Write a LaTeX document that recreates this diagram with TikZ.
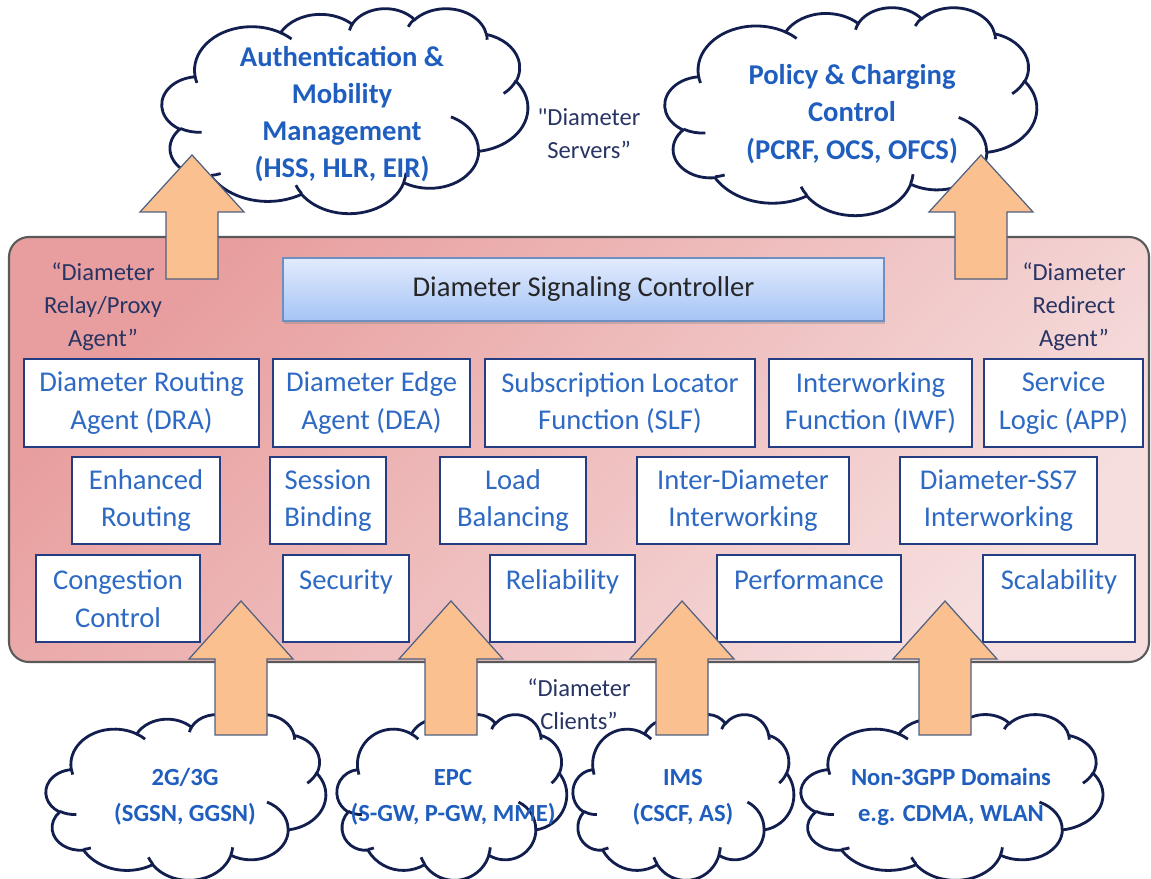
\documentclass[tikz,border=0pt]{standalone}
\usepackage{fontspec}
\setmainfont{Carlito}[Ligatures=TeXOff]
\usetikzlibrary{shadows}

\definecolor{boxblue}{RGB}{46,106,196}
\definecolor{cloudtext}{RGB}{31,94,190}
\definecolor{cloudnavy}{RGB}{18,30,78}
\definecolor{labelnavy}{RGB}{40,52,100}
\definecolor{boxline}{RGB}{35,60,130}
\definecolor{redtop}{RGB}{232,158,158}
\definecolor{redbot}{RGB}{246,222,222}
\definecolor{dscblue1}{RGB}{226,235,253}
\definecolor{dscblue2}{RGB}{166,196,246}
\definecolor{dscline}{RGB}{110,143,194}
\definecolor{arrowfill}{RGB}{250,192,143}
\definecolor{arrowline}{RGB}{80,96,128}

\tikzset{
    bigpanel/.style={rounded corners=0.4cm, draw=black!65, line width=1.2pt,
        top color=redtop, bottom color=redbot, shading angle=45},
    dscbox/.style={draw=dscline, line width=0.8pt, top color=dscblue1, bottom color=dscblue2,
        minimum width=12.02cm, minimum height=1.26cm, inner sep=0pt, text=black!85,
        font=\fontsize{16.3}{20}\selectfont,
        drop shadow={shadow xshift=0.6pt, shadow yshift=-1.6pt, opacity=0.35}},
    funcbox/.style={draw=boxline, line width=0.8pt, fill=white, inner sep=0pt, align=center,
        text=boxblue, font=\fontsize{16.3}{21.5}\selectfont},
    rowa/.style={funcbox, minimum height=1.76cm},
    rowb/.style={funcbox, minimum height=1.74cm},
    agentlabel/.style={align=center, text=labelnavy, font=\fontsize{14}{18.7}\selectfont},
    topcloudtext/.style={align=center, text=cloudtext, font=\bfseries\fontsize{16.3}{21.2}\selectfont},
    lowcloudtext/.style={align=center, text=cloudtext, font=\bfseries\fontsize{14}{20.4}\selectfont},
    cloudedge/.style={draw=cloudnavy, line width=1.6pt},
    blkarrow/.style={fill=arrowfill, draw=arrowline, line width=0.7pt, line join=miter},
}

% cloud in the box (#1,#2) of width #3 and height #4
\newcommand{\ppcloud}[4]{%
    \pgfmathsetmacro{\cloudw}{#3*0.02/432}%
    \pgfmathsetmacro{\cloudh}{#4*0.02/432}%
    \begin{scope}[shift={(#1,#2)}, x=\cloudw cm, y=-\cloudh cm]
    \filldraw[cloudedge, fill=white] (39,143.7)
        arc[start angle=172.25, delta angle=128.11, x radius=67.53, y radius=91.90]
        arc[start angle=-152.02, delta angle=106.61, x radius=53.33, y radius=72.67]
        arc[start angle=-153.49, delta angle=116.15, x radius=43.65, y radius=59.45]
        arc[start angle=-139.71, delta angle=129.49, x radius=48.57, y radius=65.95]
        arc[start angle=-74.77, delta angle=97.98, x radius=53.33, y radius=72.73]
        arc[start angle=-37.52, delta angle=119.38, x radius=67.75, y radius=92.20]
        arc[start angle=0.46, delta angle=121.52, x radius=57.85, y radius=78.67]
        arc[start angle=16.84, delta angle=129.40, x radius=67.52, y radius=92.15]
        arc[start angle=58.98, delta angle=91.21, x radius=77.20, y radius=105.43]
        arc[start angle=83.31, delta angle=139.81, x radius=43.60, y radius=59.18]
        arc[start angle=120.36, delta angle=143.75, x radius=43.45, y radius=59.45]
        -- cycle;
    \draw[cloudedge]
        (46.93,261.77) arc[start angle=85.54, delta angle=34.82, x radius=43.45, y radius=59.45]
        (69.28,348.99) arc[start angle=68.23, delta angle=15.08, x radius=43.60, y radius=59.18]
        (164.78,390.90) arc[start angle=146.24, delta angle=12.23, x radius=67.52, y radius=92.15]
        (288.27,347.51) arc[start angle=4.73, delta angle=12.11, x radius=67.52, y radius=92.15]
        (341.29,229.54) arc[start angle=-64.02, delta angle=64.48, x radius=57.85, y radius=78.67]
        (417.98,153.54) arc[start angle=23.21, delta angle=26.44, x radius=53.33, y radius=72.73]
        (383.24,54.26) arc[start angle=-10.22, delta angle=11.04, x radius=48.57, y radius=65.95]
        (290.78,39.52) arc[start angle=-156.30, delta angle=16.59, x radius=48.57, y radius=65.95]
        (221.41,47.20) arc[start angle=-167.72, delta angle=14.23, x radius=43.65, y radius=59.45]
        (140.00,51.92) arc[start angle=-59.64, delta angle=13.91, x radius=67.53, y radius=91.90]
        (41.27,157.89) arc[start angle=163.19, delta angle=9.06, x radius=67.53, y radius=91.90];
    \end{scope}}

% block arrow pointing up: x, tip y, head base y, tail y
\newcommand{\blockarrow}[4]{%
    \filldraw[blkarrow] (#1-26,#4) -- (#1-26,#3) -- (#1-52,#3) -- (#1,#2)
        -- (#1+52,#3) -- (#1+26,#3) -- (#1+26,#4) -- cycle;}

\begin{document}
\begin{tikzpicture}[x=0.02cm, y=-0.02cm]
\useasboundingbox (0,0) rectangle (1151,878);

% servers
\ppcloud{162}{8}{366}{205}
\ppcloud{665}{7}{372}{208}
\node[topcloudtext] (aaa) at (342,114) {Authentication \&\\Mobility\\Management\\(HSS, HLR, EIR)};
\node[topcloudtext] (pcc) at (852,114) {Policy \& Charging\\Control\\(PCRF, OCS, OFCS)};
\node[agentlabel] (servers) at (589,134) {"Diameter\\Servers”};

% the controller
\draw[bigpanel] (9,237) rectangle (1149,662);
\node[dscbox] (dsc) at (583.5,289.5) {Diameter Signaling Controller};
\node[agentlabel] (relay) at (103,307) {“Diameter\\Relay/Proxy\\Agent”};
\node[agentlabel] (redirect) at (1074,307) {“Diameter\\Redirect\\Agent”};

\node[rowa, minimum width=4.70cm] (dra) at (141.5,403) {Diameter Routing\\Agent (DRA)};
\node[rowa, minimum width=3.94cm] (dea) at (371.5,403) {Diameter Edge\\Agent (DEA)};
\node[rowa, minimum width=5.40cm] (slf) at (620,403) {Subscription Locator\\Function (SLF)};
\node[rowa, minimum width=4.06cm] (iwf) at (870.5,403) {Interworking\\Function (IWF)};
\node[rowa, minimum width=3.18cm] (app) at (1063.5,403) {Service\\Logic (APP)};

\node[rowb, minimum width=2.96cm] (routing) at (146,500.5) {Enhanced\\Routing};
\node[rowb, minimum width=2.32cm] (binding) at (328,500.5) {Session\\Binding};
\node[rowb, minimum width=2.92cm] (balancing) at (513,500.5) {Load\\Balancing};
\node[rowb, minimum width=4.24cm] (interdia) at (743,500.5) {Inter-Diameter\\Interworking};
\node[rowb, minimum width=3.94cm] (ss7) at (998.5,500.5) {Diameter-SS7\\Interworking};

\node[rowb, minimum width=3.28cm] (congestion) at (118,598.5) {Congestion\\Control};
\node[rowb, minimum width=2.52cm] (security) at (346,598.5) {Security\\\mbox{}};
\node[rowb, minimum width=2.90cm] (reliability) at (562.5,598.5) {Reliability\\\mbox{}};
\node[rowb, minimum width=3.68cm] (performance) at (809,598.5) {Performance\\\mbox{}};
\node[rowb, minimum width=3.04cm] (scalability) at (1059,598.5) {Scalability\\\mbox{}};

\blockarrow{192}{155}{212}{279}
\blockarrow{981}{155}{212}{279}

% clients
\ppcloud{46}{714}{280}{166}
\ppcloud{337}{714}{230}{166}
\ppcloud{573}{714}{221}{166}
\ppcloud{801}{714}{302}{166}
\node[lowcloudtext] (gsm) at (185,797) {2G/3G\\(SGSN, GGSN)};
\node[lowcloudtext] (epc) at (453,797) {EPC\\(S-GW, P-GW, MME)};
\node[lowcloudtext] (ims) at (683,797) {IMS\\(CSCF, AS)};
\node[lowcloudtext] (non3gpp) at (951,797) {Non-3GPP Domains\\e.g. CDMA, WLAN};
\node[agentlabel] (clients) at (579,704) {“Diameter\\Clients”};

\blockarrow{241}{601}{659}{735}
\blockarrow{451}{601}{659}{735}
\blockarrow{682}{601}{659}{735}
\blockarrow{945}{601}{659}{735}
\end{tikzpicture}
\end{document}
